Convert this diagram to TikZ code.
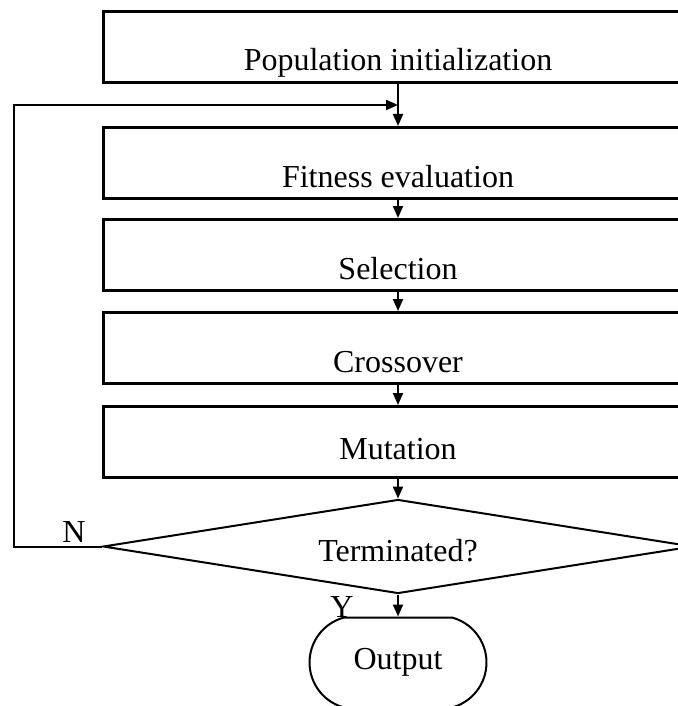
\documentclass[tikz,border=0pt]{standalone}
\usepackage{fontspec}
\setmainfont{Liberation Serif}
\usepackage{tikz}
\usetikzlibrary{shapes.geometric, shapes.misc, arrows.meta, positioning}

\tikzset{
    stage/.style={draw, line width=3pt, minimum width=590pt, minimum height=71pt,
        inner sep=0pt, text height=48pt, text depth=0pt, font=\fontsize{32}{38}\selectfont},
    decision/.style={draw, diamond, line width=2pt, aspect=6.3, minimum width=590pt,
        minimum height=94pt, inner sep=0pt, text height=30pt, text depth=0pt,
        font=\fontsize{32}{38}\selectfont},
    terminal/.style={draw, rounded rectangle, rounded rectangle arc length=150,
        line width=2pt, minimum width=177pt, minimum height=90pt, inner sep=0pt,
        font=\fontsize{32}{38}\selectfont},
    tag/.style={anchor=base, inner sep=0pt, font=\fontsize{32}{38}\selectfont},
    flow/.style={line width=2pt, -{Triangle[length=12pt,width=10pt]}},
}

\begin{document}
\begin{tikzpicture}[x=1pt, y=1pt]
    \useasboundingbox (0,0) rectangle (677,-706);

    % Main chain of the genetic algorithm
    \node[stage] (pop) at (398,-47) {Population initialization};
    \node[stage, below=42pt of pop] (fit) {Fitness evaluation};
    \node[stage, below=18pt of fit] (sel) {Selection};
    \node[stage, below=19pt of sel] (cross) {Crossover};
    \node[stage, below=20pt of cross, text height=35pt] (mut) {Mutation};
    \node[decision, below=19.5pt of mut] (dia) {Terminated?};
    \node[terminal, below=22pt of dia] (out) {Output};

    % Point where the loop joins the chain
    \path (pop.south) -- (fit.north) coordinate[midway] (join);

    % Arrows down the chain
    \draw[flow] (pop.south) -- (fit.north);
    \draw[flow] (fit.south) -- (sel.north);
    \draw[flow] (sel.south) -- (cross.north);
    \draw[flow] (cross.south) -- (mut.north);
    \draw[flow] (mut.south) -- (dia.north);
    \draw[flow] (dia.south) -- (out.north);

    % Loop back when not terminated
    \draw[flow] (dia.west) -- ++(-88,0) |- (join);

    % Branch labels
    \node[tag] (no) at (74,-542) {N};
    \node[tag] (yes) at (342,-617) {Y};
\end{tikzpicture}
\end{document}
